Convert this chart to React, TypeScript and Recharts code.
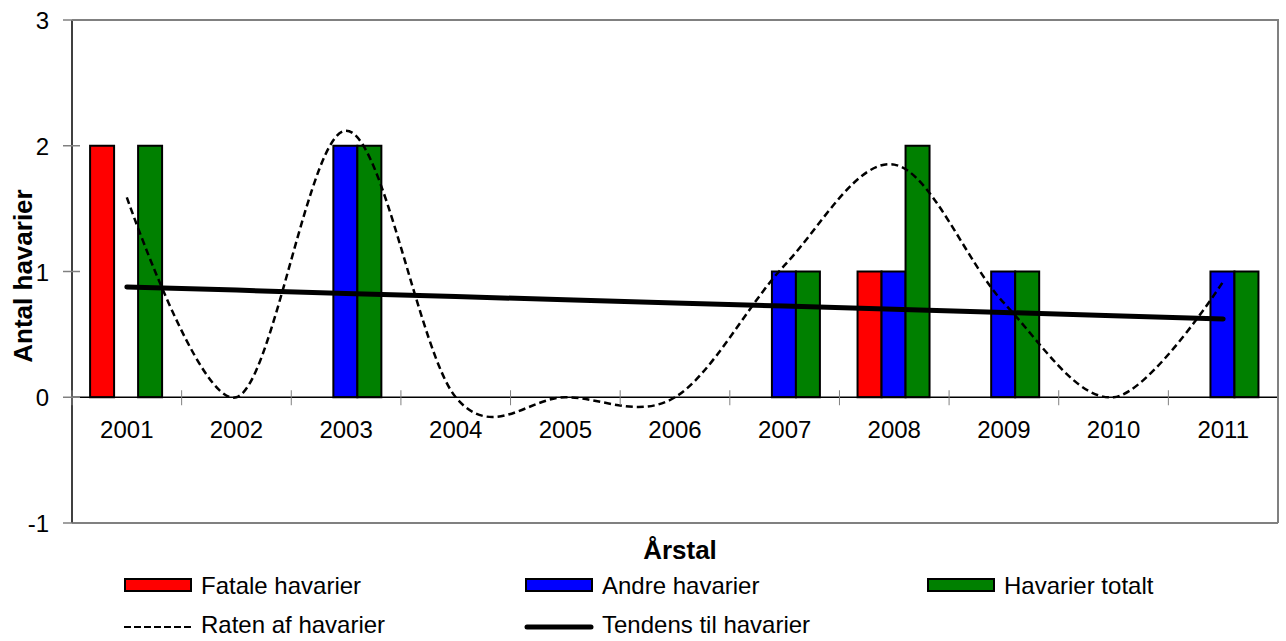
import React from 'react';
import { ComposedChart, Bar, Line, XAxis, YAxis, ReferenceLine, Legend } from 'recharts';

// Accident counts per year
const years = ['2001', '2002', '2003', '2004', '2005', '2006', '2007', '2008', '2009', '2010', '2011'];
const fatale = [2, 0, 0, 0, 0, 0, 0, 1, 0, 0, 0];
const andre = [0, 0, 2, 0, 0, 0, 1, 1, 1, 0, 1];
const totalt = [2, 0, 2, 0, 0, 0, 1, 2, 1, 0, 1];
// rate and linear trend
const raten = [1.59, 0, 2.12, 0, 0, 0, 1.05, 1.85, 0.75, 0, 0.92];
const tendens = [0.877, 0.852, 0.826, 0.801, 0.775, 0.75, 0.725, 0.699, 0.674, 0.648, 0.623];
const yTicks = [-1, 0, 1, 2, 3];

const chartData = years.map((year, i) => ({
  year,
  fatale: fatale[i],
  andre: andre[i],
  totalt: totalt[i],
  raten: raten[i],
  tendens: tendens[i],
}));

const W = 1286;
const H = 641;
const AXIS_W = 72;
const RIGHT = 7;
const TOP = 20;
const X_AXIS_H = 47;
const LEGEND_H = 71;
const PLOT_W = W - AXIS_W - RIGHT - 1;
const PLOT_H = H - TOP - X_AXIS_H - LEGEND_H;
const BAND = PLOT_W / years.length;
const ZERO_UP = PLOT_H / 4; // 0 sits a quarter of the way up from -1
const FONT = '"Liberation Sans", Arial, Helvetica, sans-serif';
const GRAY = '#808080';
const DASH = '7 4';

// Excel-style smoothed line (cardinal spline, tension 0)
function excelCurve(context: any) {
  const k = 1 / 6;
  let x0 = NaN, y0 = NaN, x1 = NaN, y1 = NaN, x2 = NaN, y2 = NaN;
  let pt = 0;
  let line = NaN;
  const seg = (x: number, y: number) => {
    context.bezierCurveTo(
      x1 + k * (x2 - x0), y1 + k * (y2 - y0),
      x2 + k * (x1 - x), y2 + k * (y1 - y),
      x2, y2
    );
  };
  return {
    areaStart() { line = 0; },
    areaEnd() { line = NaN; },
    lineStart() {
      x0 = x1 = x2 = y0 = y1 = y2 = NaN;
      pt = 0;
    },
    lineEnd() {
      if (pt === 2) context.lineTo(x2, y2);
      else if (pt === 3) seg(x1, y1);
      if (line || (line !== 0 && pt === 1)) context.closePath();
      line = 1 - line;
    },
    point(x: number, y: number) {
      x = +x; y = +y;
      if (pt === 0) {
        pt = 1;
        if (line) context.lineTo(x, y); else context.moveTo(x, y);
      } else if (pt === 1) {
        pt = 2;
        x1 = x; y1 = y;
      } else {
        pt = 3;
        seg(x, y);
      }
      x0 = x1; x1 = x2; x2 = x;
      y0 = y1; y1 = y2; y2 = y;
    },
  };
}

function XTick(props: any) {
  const { x, y, payload } = props;
  const zy = y - ZERO_UP;
  const last = payload.value === years[years.length - 1];
  return (
    <g>
      <line x1={x - BAND / 2} x2={x - BAND / 2} y1={zy - 7} y2={zy + 8} stroke={GRAY} />
      {last && <line x1={x + BAND / 2} x2={x + BAND / 2} y1={zy - 7} y2={zy + 8} stroke={GRAY} />}
      <text x={x} y={zy + 41} textAnchor="middle" fontSize={24} fontFamily={FONT} fill="#000">
        {payload.value}
      </text>
    </g>
  );
}

function YTick(props: any) {
  const { x, y, payload } = props;
  return (
    <g>
      <line x1={x - 9} x2={x + 8} y1={y} y2={y} stroke={GRAY} strokeWidth={1.5} />
      <text x={x - 23} y={y + 9} textAnchor="end" fontSize={24} fontFamily={FONT} fill="#000">
        {payload.value}
      </text>
    </g>
  );
}

// legend slot per series: [column x, row]
const LEGEND_SLOTS: Record<string, [number, number]> = {
  fatale: [124, 0],
  andre: [525, 0],
  totalt: [927, 0],
  raten: [124, 1],
  tendens: [525, 1],
};

function LegendBox(props: any) {
  const payload = props.payload || [];
  return (
    <svg width={W} height={LEGEND_H} style={{ display: 'block' }}>
      {payload.map((entry: any) => {
        const slot = LEGEND_SLOTS[entry.dataKey];
        if (!slot) return null;
        const [x, row] = slot;
        const baseY = row === 0 ? 23.5 : 63;
        const midY = row === 0 ? 15 : 57;
        let icon;
        if (entry.dataKey === 'raten') {
          icon = <line x1={x} x2={x + 68} y1={midY} y2={midY} stroke="#000" strokeWidth={2} strokeDasharray="7 3" />;
        } else if (entry.dataKey === 'tendens') {
          icon = <line x1={x + 2} x2={x + 66} y1={midY} y2={midY} stroke="#000" strokeWidth={5} strokeLinecap="round" />;
        } else {
          icon = <rect x={x + 1} y={midY - 6} width={66} height={12} fill={entry.color} stroke="#000" strokeWidth={2} />;
        }
        return (
          <g key={entry.dataKey}>
            {icon}
            <text x={x + 77} y={baseY} fontSize={24} fontFamily={FONT} fill="#000">
              {entry.value}
            </text>
          </g>
        );
      })}
    </svg>
  );
}

export default function App() {
  return (
    <div style={{ position: 'absolute', left: 0, top: 0, width: W, height: H, background: '#fff' }}>
      <ComposedChart
        width={W}
        height={H}
        data={chartData}
        margin={{ top: TOP, right: RIGHT, bottom: 0, left: 0 }}
        barCategoryGap="16.5%"
        barGap={0}
      >
        <XAxis
          dataKey="year"
          height={X_AXIS_H}
          tickSize={0}
          tickMargin={0}
          tickLine={false}
          axisLine={{ stroke: GRAY, strokeWidth: 2 }}
          tick={<XTick />}
          interval={0}
          label={{
            value: 'Årstal',
            position: 'center',
            dx: 5,
            dy: 3.5,
            fontSize: 26,
            fontWeight: 'bold',
            fontFamily: FONT,
            fill: '#000',
          }}
        />
        <YAxis
          width={AXIS_W}
          domain={[-1, 3]}
          ticks={yTicks}
          interval={0}
          tickSize={0}
          tickMargin={0}
          tickLine={false}
          axisLine={{ stroke: '#000', strokeWidth: 1.5 }}
          tick={<YTick />}
          label={{
            value: 'Antal havarier',
            angle: -90,
            position: 'center',
            dx: -13.5,
            dy: 4.5,
            fontSize: 26,
            fontWeight: 'bold',
            fontFamily: FONT,
            fill: '#000',
          }}
        />
        <YAxis
          yAxisId="right"
          orientation="right"
          width={1}
          domain={[0, 1]}
          tick={false}
          tickLine={false}
          axisLine={{ stroke: GRAY, strokeWidth: 2 }}
        />
        <ReferenceLine y={0} stroke="#000" strokeWidth={1.5} />
        <Legend
          verticalAlign="bottom"
          content={<LegendBox />}
          wrapperStyle={{ left: 0, width: W, height: LEGEND_H }}
        />
        <Bar dataKey="fatale" name="Fatale havarier" fill="#FF0000" stroke="#000" strokeWidth={2} isAnimationActive={false} />
        <Bar dataKey="andre" name="Andre havarier" fill="#0000FF" stroke="#000" strokeWidth={2} isAnimationActive={false} />
        <Bar dataKey="totalt" name="Havarier totalt" fill="#008000" stroke="#000" strokeWidth={2} isAnimationActive={false} />
        <Line
          dataKey="raten"
          name="Raten af havarier"
          type={excelCurve as any}
          stroke="#000"
          strokeWidth={2.5}
          strokeDasharray={DASH}
          dot={false}
          activeDot={false}
          isAnimationActive={false}
        />
        <Line
          dataKey="tendens"
          name="Tendens til havarier"
          type="linear"
          stroke="#000"
          strokeWidth={5}
          strokeLinecap="round"
          dot={false}
          activeDot={false}
          isAnimationActive={false}
        />
      </ComposedChart>
      {/* top edge of the plot frame */}
      <div
        style={{
          position: 'absolute',
          left: AXIS_W,
          top: TOP - 1,
          width: PLOT_W + 1,
          height: 2,
          background: GRAY,
          pointerEvents: 'none',
        }}
      />
    </div>
  );
}
